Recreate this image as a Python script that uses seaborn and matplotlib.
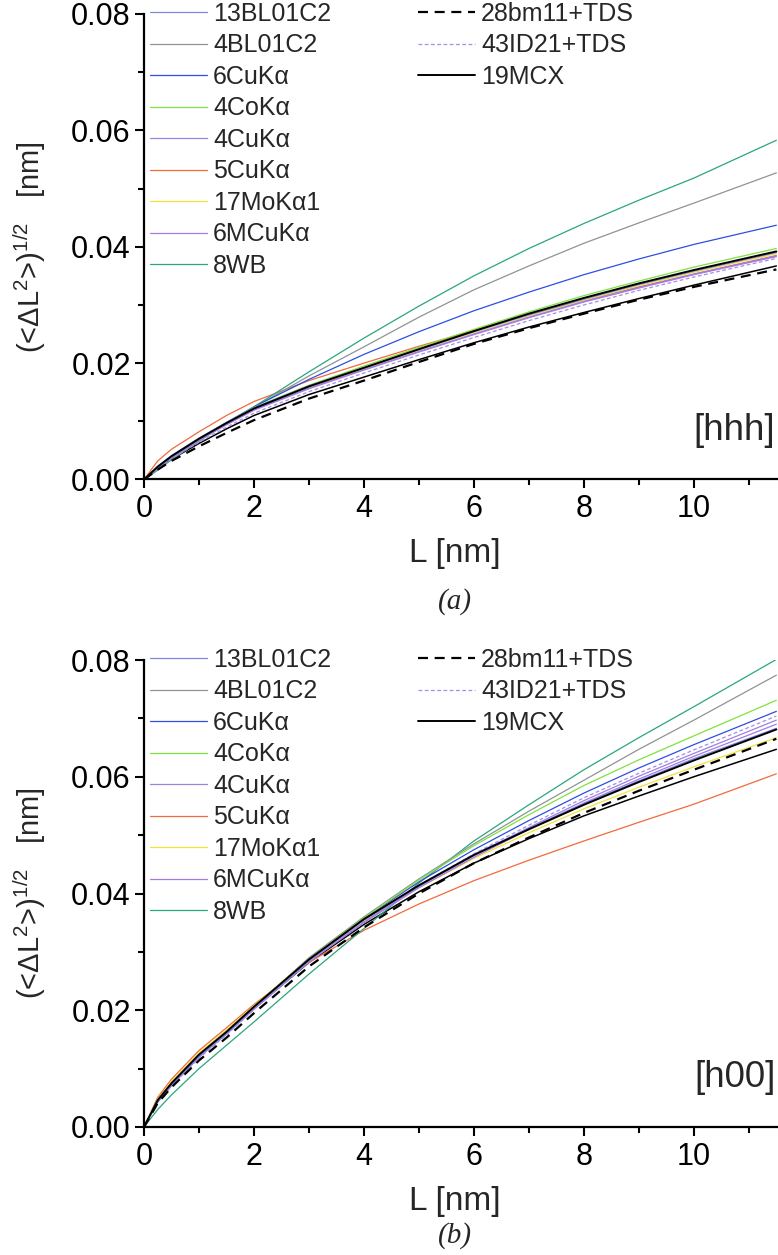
import matplotlib
matplotlib.use("Agg")
import matplotlib.pyplot as plt
from matplotlib.ticker import MultipleLocator, FormatStrFormatter
import seaborn as sns

# L grid (nm) shared by every curve
L = [0, 0.25, 0.5, 1, 1.5, 2, 3, 4, 5, 6, 7, 8, 9, 10, 11.5]

names = ["13BL01C2", "4BL01C2", "6CuKα", "4CoKα", "4CuKα", "5CuKα",
         "17MoKα1", "6MCuKα", "8WB", "28bm11+TDS", "43ID21+TDS", "19MCX"]
colors = ["#7c88e0", "#8e9494", "#2b4fe3", "#7fe23e", "#9c82e2", "#f26a3c",
          "#f2e23c", "#a57ae6", "#2aa67c", "black", "#a48ce8", "black"]

# panel (a): [hhh]
hhh = {
    "13BL01C2":   [0, .0023, .0041, .0071, .0098, .0123, .0161, .0192, .0223, .0254, .0283, .0310, .0335, .0358, .0390],
    "4BL01C2":    [0, .0018, .0035, .0066, .0096, .0124, .0178, .0228, .0279, .0326, .0367, .0406, .0441, .0475, .0527],
    "6CuKα":      [0, .0020, .0038, .0069, .0098, .0125, .0172, .0215, .0254, .0290, .0322, .0352, .0379, .0404, .0437],
    "4CoKα":      [0, .0022, .0040, .0071, .0098, .0124, .0162, .0195, .0227, .0258, .0288, .0316, .0341, .0365, .0397],
    "4CuKα":      [0, .0021, .0038, .0068, .0094, .0119, .0156, .0188, .0219, .0249, .0278, .0305, .0329, .0352, .0383],
    "5CuKα":      [0, .0032, .0052, .0082, .0110, .0134, .0170, .0200, .0229, .0256, .0283, .0308, .0331, .0353, .0385],
    "17MoKα1":    [0, .0021, .0039, .0069, .0096, .0121, .0159, .0190, .0222, .0252, .0281, .0308, .0333, .0356, .0388],
    "6MCuKα":     [0, .0021, .0039, .0068, .0095, .0120, .0157, .0189, .0220, .0250, .0279, .0306, .0330, .0353, .0384],
    "8WB":        [0, .0016, .0034, .0066, .0096, .0125, .0185, .0243, .0298, .0350, .0397, .0440, .0480, .0518, .0583],
    "28bm11+TDS": [0, .0017, .0032, .0057, .0080, .0102, .0139, .0170, .0202, .0233, .0260, .0285, .0309, .0331, .0361],
    "43ID21+TDS": [0, .0019, .0036, .0064, .0090, .0114, .0151, .0183, .0214, .0244, .0273, .0300, .0325, .0348, .0380],
    "19MCX":      [0, .0022, .0040, .0070, .0097, .0122, .0160, .0192, .0224, .0255, .0285, .0312, .0337, .0360, .0392],
}
hhh_extra = [0, .0019, .0035, .0062, .0087, .0110, .0146, .0176, .0206, .0235, .0262, .0287, .0311, .0334, .0367]

# panel (b): [h00]
h00 = {
    "13BL01C2":   [0, .0044, .0072, .0121, .0160, .0203, .0285, .0355, .0414, .0467, .0512, .0554, .0593, .0631, .0683],
    "4BL01C2":    [0, .0043, .0072, .0122, .0160, .0205, .0290, .0360, .0425, .0485, .0541, .0594, .0647, .0697, .0774],
    "6CuKα":      [0, .0043, .0071, .0120, .0160, .0204, .0287, .0357, .0420, .0475, .0525, .0572, .0615, .0655, .0712],
    "4CoKα":      [0, .0044, .0073, .0122, .0163, .0206, .0288, .0358, .0423, .0482, .0535, .0585, .0629, .0670, .0731],
    "4CuKα":      [0, .0044, .0072, .0120, .0159, .0202, .0283, .0351, .0412, .0465, .0513, .0559, .0601, .0640, .0697],
    "5CuKα":      [0, .0051, .0082, .0131, .0170, .0210, .0282, .0337, .0382, .0422, .0457, .0490, .0522, .0553, .0605],
    "17MoKα1":    [0, .0048, .0078, .0127, .0166, .0208, .0287, .0353, .0410, .0460, .0504, .0545, .0582, .0617, .0667],
    "6MCuKα":     [0, .0045, .0073, .0121, .0160, .0203, .0283, .0350, .0410, .0462, .0510, .0555, .0596, .0635, .0690],
    "8WB":        [0, .0030, .0055, .0100, .0140, .0180, .0262, .0340, .0418, .0490, .0552, .0612, .0667, .0720, .0801],
    "28bm11+TDS": [0, .0041, .0068, .0114, .0153, .0195, .0275, .0342, .0400, .0452, .0496, .0538, .0576, .0612, .0665],
    "43ID21+TDS": [0, .0042, .0070, .0118, .0158, .0201, .0283, .0352, .0414, .0468, .0517, .0564, .0606, .0646, .0704],
    "19MCX":      [0, .0046, .0075, .0124, .0163, .0206, .0287, .0356, .0414, .0466, .0510, .0552, .0591, .0628, .0681],
}
h00_extra = [0, .0045, .0074, .0122, .0161, .0203, .0282, .0347, .0403, .0452, .0494, .0533, .0567, .0600, .0647]

sns.set_style("ticks")
plt.rcParams["font.family"] = ["Liberation Sans", "DejaVu Sans"]
plt.rcParams["mathtext.fontset"] = "custom"
plt.rcParams["mathtext.rm"] = "Liberation Sans"
plt.rcParams["mathtext.it"] = "Liberation Sans:italic"
plt.rcParams["mathtext.default"] = "regular"

W, H = 778, 1255
fig = plt.figure(figsize=(W / 100, H / 100), dpi=100)
ax1 = fig.add_axes([144 / W, 1 - 479.5 / H, 634 / W, 465.5 / H])
ax2 = fig.add_axes([144 / W, 1 - 1127 / H, 634 / W, 467 / H])


def style_for(name):
    if name == "28bm11+TDS":
        return dict(lw=1.6, linestyle=(0, (4.5, 3)))
    if name == "43ID21+TDS":
        return dict(lw=0.9, linestyle=(0, (3, 2)))
    if name == "19MCX":
        return dict(lw=1.4, linestyle="-")
    return dict(lw=0.9, linestyle="-")


def draw(ax, data, extra, tag, caption, cap_y):
    # unlabeled solid black curve drawn first (lies under the rest)
    sns.lineplot(x=L, y=extra, ax=ax, color="black", lw=1.1, legend=False)
    handles = {}
    order = ["5CuKα", "8WB", "4BL01C2", "6CuKα", "4CoKα", "17MoKα1", "4CuKα",
             "6MCuKα", "13BL01C2", "43ID21+TDS", "19MCX", "28bm11+TDS"]
    for name in order:
        c = colors[names.index(name)]
        sns.lineplot(x=L, y=data[name], ax=ax, color=c, legend=False,
                     **style_for(name))
        handles[name] = ax.lines[-1]

    ax.set_xlim(0, 11.53)
    ax.set_ylim(0, 0.08)
    ax.xaxis.set_major_locator(MultipleLocator(2))
    ax.xaxis.set_minor_locator(MultipleLocator(1))
    ax.yaxis.set_major_locator(MultipleLocator(0.02))
    ax.yaxis.set_minor_locator(MultipleLocator(0.01))
    ax.yaxis.set_major_formatter(FormatStrFormatter("%.2f"))
    ax.tick_params(which="major", direction="out", length=6.5, width=1.5,
                   labelsize=22, color="black", labelcolor="black")
    ax.tick_params(axis="y", which="major", pad=3)
    ax.tick_params(axis="x", which="major", pad=4)
    ax.tick_params(which="minor", direction="out", length=4.3, width=1.5,
                   color="black")
    sns.despine(ax=ax)
    for s in ["left", "bottom"]:
        ax.spines[s].set_linewidth(1.6)
        ax.spines[s].set_color("black")

    ax.set_xlabel("L [nm]", fontsize=24)
    ax.xaxis.set_label_coords(0.49, -74 / 465.5)
    ax.xaxis.label.set_va("center")
    ax.set_ylabel(r"(<ΔL$^2$>)$^{1/2}$   [nm]", fontsize=21)
    ax.yaxis.set_label_coords(-(144 - 30) / 634, 0.5)
    ax.yaxis.label.set_va("center")

    ax.text(0.996, 49 / 465.5, tag, transform=ax.transAxes, ha="right",
            va="center", fontsize=26.5)

    col1 = names[:9]
    col2 = names[9:]
    leg_kw = dict(frameon=False, fontsize=18, handlelength=2.28,
                  handletextpad=0.24, labelspacing=0.3, borderpad=0,
                  borderaxespad=0, loc="upper left")
    top = 1 + 12 / 465.5
    leg1 = ax.legend([handles[n] for n in col1], col1,
                     bbox_to_anchor=(6 / 634, top), **leg_kw)
    ax.add_artist(leg1)
    ax.legend([handles[n] for n in col2], col2,
              bbox_to_anchor=(274 / 634, top), **leg_kw)

    ax.text(0.49, -cap_y / 465.5, caption, transform=ax.transAxes,
            ha="center", va="center", fontsize=21, family="Liberation Serif",
            style="italic")


draw(ax1, hhh, hhh_extra, "[hhh]", "(a)", 122)
draw(ax2, h00, h00_extra, "[h00]", "(b)", 108)

fig.savefig("out.png", dpi=100)
